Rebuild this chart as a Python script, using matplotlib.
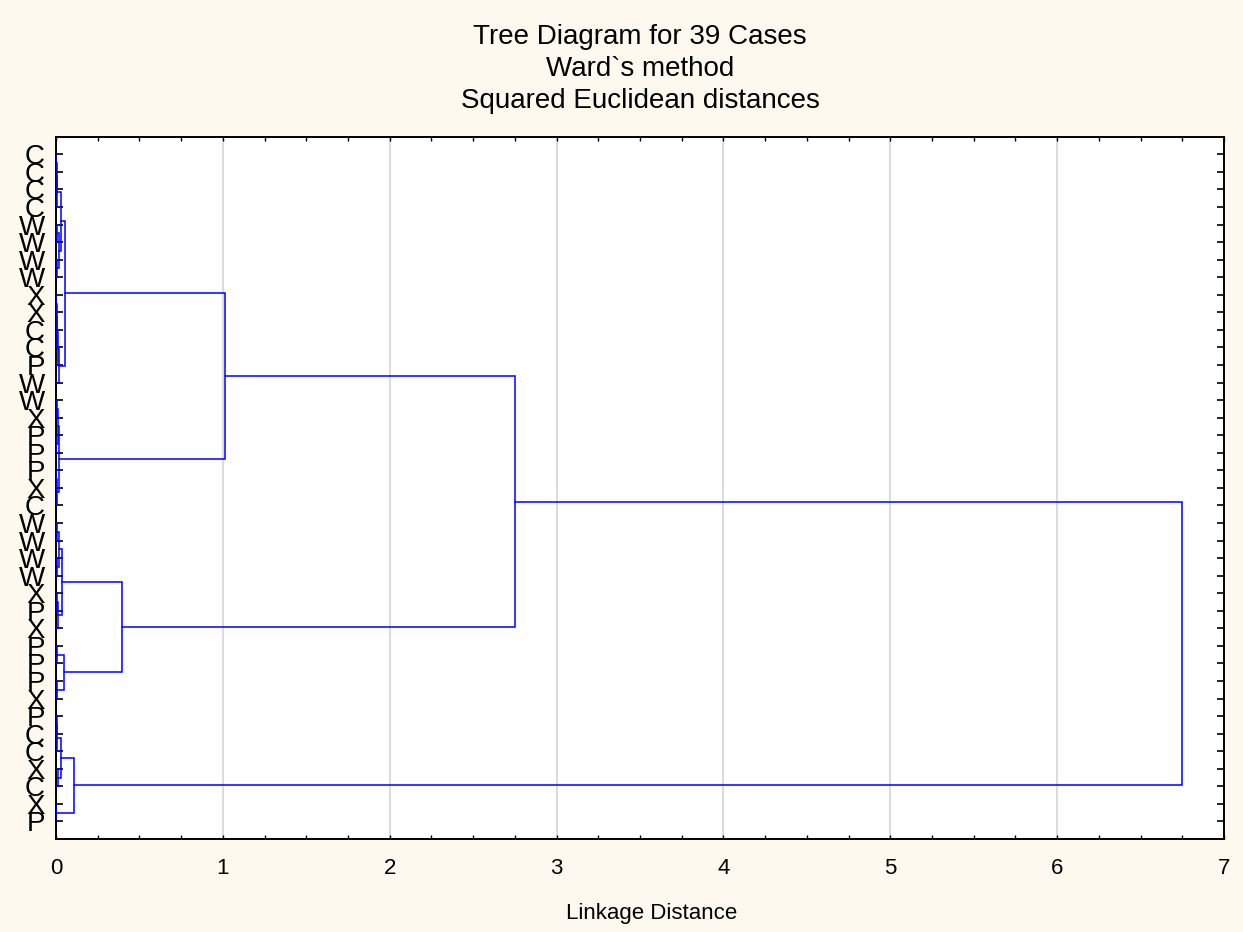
import matplotlib
matplotlib.use("Agg")
import matplotlib.pyplot as plt
from matplotlib.ticker import MultipleLocator

plt.rcParams["font.family"] = ["Liberation Sans", "DejaVu Sans"]

# case labels, top to bottom
leaf_labels = [
    "C", "C", "C", "C", "W", "W", "W", "W", "X", "X",
    "C", "C", "P", "W", "W", "X", "P", "P", "P", "X",
    "C", "W", "W", "W", "W", "X", "P", "X", "P", "P",
    "P", "X", "P", "C", "C", "X", "C", "X", "P"
]

# joining steps: ids < 39 are cases, id 39 + k is the cluster made at step k
merge_left = [
    0, 39, 40, 4, 6, 42, 41, 8, 46, 47,
    48, 49, 45, 14, 16, 52, 18, 55, 54, 51,
    21, 23, 59, 25, 62, 61, 28, 30, 65, 64,
    58, 32, 70, 35, 71, 37, 73, 69
]
merge_right = [
    1, 2, 3, 5, 7, 43, 44, 9, 10, 11,
    12, 13, 50, 15, 17, 53, 19, 20, 56, 57,
    22, 24, 60, 26, 27, 63, 29, 31, 66, 67,
    68, 33, 34, 36, 72, 38, 74, 75
]
merge_height = [
    0.002, 0.004, 0.008, 0.004, 0.006, 0.02, 0.032, 0.001, 0.003, 0.006,
    0.01, 0.016, 0.056, 0.003, 0.002, 0.01, 0.002, 0.008, 0.018, 1.01,
    0.005, 0.008, 0.02, 0.004, 0.012, 0.038, 0.003, 0.006, 0.05, 0.395,
    2.75, 0.003, 0.008, 0.012, 0.03, 0.001, 0.106, 6.75
]

x_ticks = [0, 1, 2, 3, 4, 5, 6, 7]

n_cases = len(leaf_labels)

fig = plt.figure(
    figsize=(12.43, 9.32),
    dpi=100,
    facecolor="#FDF9EE"
)

ax = fig.add_axes(
    [0.0451, 0.0998, 0.9396, 0.7535]
)
ax.set_facecolor("white")

# position (along the case axis) and height of every node
node_pos = {}
node_height = {}
for i in range(n_cases):
    node_pos[i] = i + 1
    node_height[i] = 0.0

line_color = "#0000FF"

for k in range(len(merge_height)):
    a = merge_left[k]
    b = merge_right[k]
    h = merge_height[k]
    node_id = n_cases + k
    node_pos[node_id] = (node_pos[a] + node_pos[b]) / 2
    node_height[node_id] = h
    ax.plot(
        [node_height[a], h, h, node_height[b]],
        [node_pos[a], node_pos[a], node_pos[b], node_pos[b]],
        color=line_color,
        linewidth=1.1,
        solid_joinstyle="miter",
        zorder=3
    )

ax.set_xlim(0, 7)
ax.set_ylim(n_cases + 1, 0)

ax.set_xticks(x_ticks)
ax.xaxis.set_minor_locator(MultipleLocator(0.25))
ax.set_yticks(range(1, n_cases + 1))
ax.set_yticklabels(leaf_labels)

ax.grid(
    axis="x",
    which="major",
    color="#DADADA",
    linewidth=1.4,
    zorder=0
)
ax.set_axisbelow(True)

ax.tick_params(
    axis="x",
    which="both",
    direction="in",
    top=True,
    length=3,
    width=1,
    labelsize=16,
    pad=14
)
ax.tick_params(
    axis="y",
    which="both",
    direction="in",
    right=True,
    length=5,
    width=1.2,
    labelsize=20,
    pad=8
)

for spine in ax.spines.values():
    spine.set_linewidth(1.4)
    spine.set_color("black")

ax.set_xlabel(
    "Linkage Distance",
    fontsize=16
)
ax.xaxis.set_label_coords(0.51, -0.091)

ax.set_title(
    "Tree Diagram for 39 Cases\nWard`s method\nSquared Euclidean distances",
    fontsize=20,
    linespacing=1.28,
    pad=21
)

plt.savefig(
    "out.png",
    dpi=100,
    facecolor=fig.get_facecolor()
)
plt.close()
